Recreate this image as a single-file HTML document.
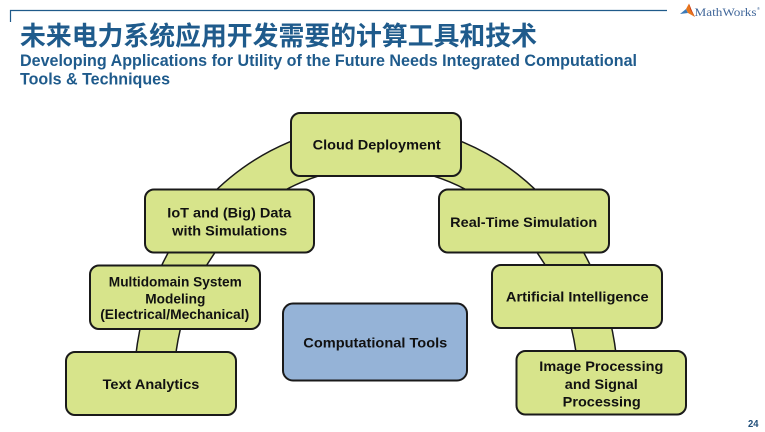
<!DOCTYPE html>
<html>
<head>
<meta charset="utf-8">
<style>
  html, body { margin:0; padding:0; background:#fff; }
  body { width:765px; height:432px; overflow:hidden; }
  svg { display:block; }
  .t { font-family:"Liberation Sans", Arial, sans-serif; font-weight:bold; font-size:14px; fill:#111; }
</style>
</head>
<body>
<svg width="765" height="432" viewBox="0 0 765 432" xmlns="http://www.w3.org/2000/svg">
  <rect width="765" height="432" fill="#ffffff"/>

  <!-- header rule -->
  <path d="M10.5,22 V10.5 H667" fill="none" stroke="#1f5a8a" stroke-width="1.2"/>

  <!-- MathWorks logo -->
  <polygon points="680,14 686,9 688,13" fill="#3c7ab8"/>
  <polygon points="686,9 689,3.5 692,11 695,17 688,13" fill="#e8761c"/>
  <polygon points="689,3.5 692,11 695,17 690.5,10" fill="#c7391b"/>
  <text x="694.5" y="16" font-family="'Liberation Serif', serif" font-size="11.5" fill="#41679a" textLength="62" lengthAdjust="spacingAndGlyphs">MathWorks</text>
  <text x="757" y="10" font-family="'Liberation Sans', sans-serif" font-size="4" fill="#41679a">®</text>

  <!-- titles -->
  <text x="20" y="45" font-family="'Liberation Sans','Noto Sans CJK SC',sans-serif" font-weight="bold" font-size="26" fill="#1f5b8c" textLength="517" lengthAdjust="spacingAndGlyphs">未来电力系统应用开发需要的计算工具和技术</text>
  <text x="20" y="66" font-family="'Liberation Sans',sans-serif" font-weight="bold" font-size="16.5" fill="#1f5b8c" textLength="617" lengthAdjust="spacingAndGlyphs">Developing Applications for Utility of the Future Needs Integrated Computational</text>
  <text x="20" y="84.5" font-family="'Liberation Sans',sans-serif" font-weight="bold" font-size="16.5" fill="#1f5b8c" textLength="150" lengthAdjust="spacingAndGlyphs">Tools &amp; Techniques</text>

  <!-- arch band -->
  <path d="M134.1,380 A242 263 0 0 1 617.9,380 L577.98,380 A202 216 0 0 0 174.02,380 Z"
        fill="#d7e48b" stroke="#1a1a1a" stroke-width="1.5"/>

  <!-- boxes -->
  <g fill="#d7e48b" stroke="#1a1a1a" stroke-width="2">
    <rect x="291" y="113" width="170" height="63" rx="9"/>
    <rect x="145" y="189.5" width="169" height="63" rx="9"/>
    <rect x="439" y="189.5" width="170" height="63" rx="9"/>
    <rect x="90" y="265.5" width="170" height="63.5" rx="9"/>
    <rect x="492" y="265" width="170" height="63" rx="9"/>
    <rect x="66" y="352" width="170" height="63" rx="9"/>
    <rect x="516.5" y="351" width="169.5" height="63.5" rx="9"/>
  </g>
  <rect x="283" y="303.5" width="184" height="77" rx="10" fill="#95b3d7" stroke="#1a1a1a" stroke-width="2"/>

  <!-- labels -->
  <text class="t" x="376.7" y="149.7" text-anchor="middle" textLength="128" lengthAdjust="spacingAndGlyphs">Cloud Deployment</text>

  <text class="t" x="229.3" y="217.7" text-anchor="middle" textLength="124" lengthAdjust="spacingAndGlyphs">IoT and (Big) Data</text>
  <text class="t" x="229.7" y="235.5" text-anchor="middle" textLength="115" lengthAdjust="spacingAndGlyphs">with Simulations</text>

  <text class="t" x="523.7" y="227" text-anchor="middle" textLength="147" lengthAdjust="spacingAndGlyphs">Real-Time Simulation</text>

  <text class="t" x="175.3" y="286.3" text-anchor="middle" textLength="133" lengthAdjust="spacingAndGlyphs">Multidomain System</text>
  <text class="t" x="175.3" y="303.5" text-anchor="middle" textLength="60" lengthAdjust="spacingAndGlyphs">Modeling</text>
  <text class="t" x="174.7" y="319" text-anchor="middle" textLength="149" lengthAdjust="spacingAndGlyphs">(Electrical/Mechanical)</text>

  <text class="t" x="577.3" y="301.7" text-anchor="middle" textLength="142.7" lengthAdjust="spacingAndGlyphs">Artificial Intelligence</text>

  <text class="t" x="375.3" y="347.7" text-anchor="middle" textLength="144" lengthAdjust="spacingAndGlyphs">Computational Tools</text>

  <text class="t" x="151" y="389" text-anchor="middle" textLength="96.7" lengthAdjust="spacingAndGlyphs">Text Analytics</text>

  <text class="t" x="601.3" y="371" text-anchor="middle" textLength="124" lengthAdjust="spacingAndGlyphs">Image Processing</text>
  <text class="t" x="601.3" y="389" text-anchor="middle" textLength="73" lengthAdjust="spacingAndGlyphs">and Signal</text>
  <text class="t" x="601.7" y="406.3" text-anchor="middle" textLength="78" lengthAdjust="spacingAndGlyphs">Processing</text>

  <!-- page number -->
  <text x="748" y="427" font-family="'Liberation Sans',sans-serif" font-weight="bold" font-size="10.5" fill="#1f4e79" textLength="10.5" lengthAdjust="spacingAndGlyphs">24</text>
</svg>
</body>
</html>
